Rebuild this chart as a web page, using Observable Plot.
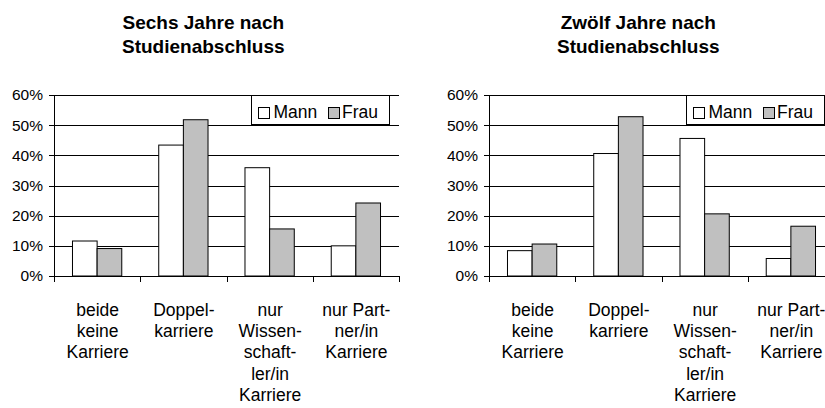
<!DOCTYPE html>
<html>
<head>
<meta charset="utf-8">
<script src="https://cdn.jsdelivr.net/npm/d3@7"></script>
<script src="https://cdn.jsdelivr.net/npm/@observablehq/plot@0.6"></script>
<style>
  body { margin: 0; background: #fff; }
  #wrap { position: relative; width: 825px; height: 408px; overflow: hidden;
          font-family: "Liberation Sans", Arial, sans-serif; color: #000; background: #fff; }
  .panel { position: absolute; top: 0; width: 410px; height: 408px; }
  .panel svg { position: absolute; left: 0; top: 0; overflow: visible; }
  .title { position: absolute; top: 11px; left: -1.7px; width: 410px; text-align: center;
           font-weight: bold; font-size: 19px; line-height: 24px; white-space: nowrap; }
  .legend { position: absolute; left: 250.5px; top: 95px; width: 139px; height: 30px;
            box-sizing: border-box; border: 1px solid #000; background: #fff; }
  .sw { position: absolute; top: 11px; width: 12px; height: 12px; box-sizing: border-box; border: 1px solid #000; }
  .lt { position: absolute; top: 8.2px; font-size: 17.5px; line-height: 17.5px; white-space: nowrap; }
</style>
</head>
<body>
<div id="wrap"></div>
<script>
// ---- data ----
const categories = [
  "beide\nkeine\nKarriere",
  "Doppel-\nkarriere",
  "nur\nWissen-\nschaft-\nler/in\nKarriere",
  "nur Part-\nner/in\nKarriere"
];
const seriesNames = ["Mann", "Frau"];
const seriesColors = ["#ffffff", "#c0c0c0"];
const panelTitles = ["Sechs Jahre nach\nStudienabschluss", "Zwölf Jahre nach\nStudienabschluss"];
const sechsMann = [11.6, 43.4, 35.9, 10.0];
const sechsFrau = [9.1, 51.8, 15.6, 24.2];
const zwoelfMann = [8.4, 40.6, 45.6, 5.8];
const zwoelfFrau = [10.6, 52.8, 20.6, 16.5];
const yTicks = [0, 10, 20, 30, 40, 50, 60];

const FONT = '"Liberation Sans", Arial, sans-serif';
const GAP = 0.75 / 3.5; // gap fraction on each side of a bar group (Excel gap width 150%)

function drawPanel(mann, frau) {
  const data = categories.flatMap((c, i) => [
    {i, sex: seriesNames[0], v: mann[i]},
    {i, sex: seriesNames[1], v: frau[i]}
  ]);
  return Plot.plot({
    width: 410, height: 408,
    marginLeft: 54, marginRight: 11, marginTop: 95, marginBottom: 132,
    style: {fontFamily: FONT, fontSize: "15.5px", color: "#000", background: "transparent", overflow: "visible"},
    x: {domain: [0, categories.length]},
    y: {domain: [0, 60]},
    color: {domain: seriesNames, range: seriesColors},
    marks: [
      Plot.gridY(yTicks, {stroke: "#000", strokeOpacity: 1, shapeRendering: "crispEdges"}),
      Plot.axisY(yTicks, {tickSize: 5, tickPadding: 6.5, tickFormat: d => d + "%", label: null,
                          fontSize: 15.5, shapeRendering: "crispEdges"}),
      Plot.axisX(d3.range(categories.length + 1), {tickSize: 6, tickFormat: () => "", label: null,
                          shapeRendering: "crispEdges"}),
      Plot.ruleX([0], {stroke: "#000", shapeRendering: "crispEdges"}),
      Plot.rect(data, {
        x1: d => d.i + (d.sex === seriesNames[0] ? GAP : 0.5),
        x2: d => d.i + (d.sex === seriesNames[0] ? 0.5 : 1 - GAP),
        y1: 0, y2: "v",
        fill: "sex", stroke: "#000", strokeWidth: 1
      }),
      Plot.text(categories, {
        x: (d, i) => i + 0.5, text: d => d,
        frameAnchor: "bottom", lineAnchor: "top", dy: 23.8, lineHeight: 1.223,
        fontSize: 17.5, fill: "#000"
      })
    ]
  });
}

const wrap = document.getElementById("wrap");
const panels = [[sechsMann, sechsFrau], [zwoelfMann, zwoelfFrau]];
panels.forEach(([m, f], k) => {
  const p = document.createElement("div");
  p.className = "panel";
  p.style.left = (k * 435) + "px";
  p.appendChild(drawPanel(m, f));
  const t = document.createElement("div");
  t.className = "title";
  t.innerHTML = panelTitles[k].split("\n").join("<br>");
  p.appendChild(t);
  const lg = document.createElement("div");
  lg.className = "legend";
  const swX = [6, 76], txX = [22, 90.5];
  seriesNames.forEach((name, j) => {
    const s = document.createElement("div");
    s.className = "sw"; s.style.left = swX[j] + "px"; s.style.background = seriesColors[j];
    const tx = document.createElement("div");
    tx.className = "lt"; tx.style.left = txX[j] + "px"; tx.textContent = name;
    lg.appendChild(s); lg.appendChild(tx);
  });
  p.appendChild(lg);
  wrap.appendChild(p);
});
</script>
</body>
</html>
